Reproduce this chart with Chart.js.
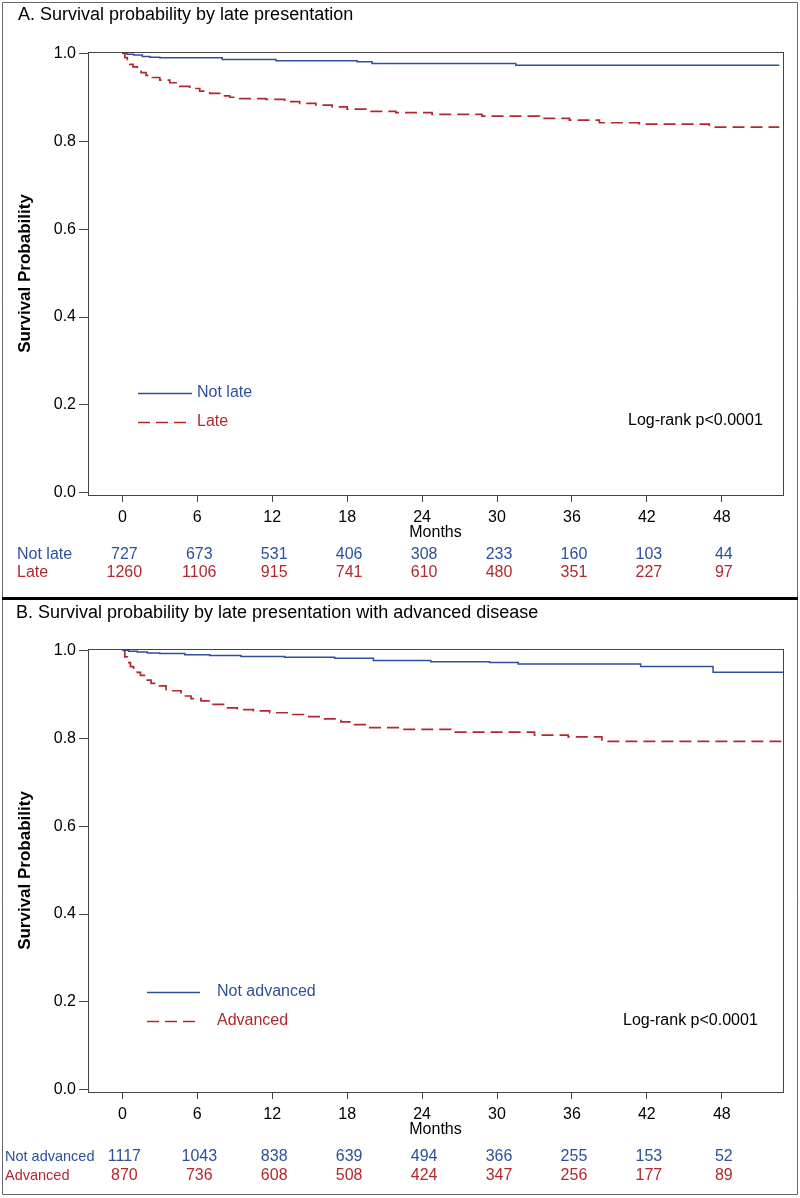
<!DOCTYPE html>
<html>
<head>
<meta charset="UTF-8" />
<title>Survival probability by late presentation</title>
<style>
  body { margin: 0; background: white; }
  #wrap { width: 800px; height: 1198px; }
  canvas { display: block; }
</style>
<script src="https://cdn.jsdelivr.net/npm/chart.js"></script>
</head>
<body>
<div id="wrap">
  <canvas id="chartA" width="800" height="599"></canvas>
  <canvas id="chartB" width="800" height="599"></canvas>
</div>
<script>
const FONT = "Arial, 'Liberation Sans', sans-serif";
const BLUE = "#2d509c";
const RED = "#b3282e";

// axis ticks
const monthTicks = [0, 6, 12, 18, 24, 30, 36, 42, 48];
const probTicks = [0, 0.2, 0.4, 0.6, 0.8, 1.0];

// Panel A: KM steps (month of drop, survival after drop)
const notLateMonths = [0, 0.4, 0.9, 1.6, 2.2, 3.0, 8.0, 12.3, 18.8, 20.0, 31.5, 52.6];
const notLateSurv   = [1, 0.998, 0.996, 0.993, 0.991, 0.990, 0.986, 0.983, 0.981, 0.977, 0.973, 0.973];
const lateMonths = [0, 0.2, 0.4, 0.6, 0.85, 1.2, 1.5, 1.9, 2.4, 3.0, 3.8, 4.6, 5.4, 6.2, 7.0, 7.8, 8.6, 9.4,
                    11.5, 13.0, 14.2, 15.5, 16.8, 18.0, 19.5, 21.9, 24.8, 28.8, 33.4, 35.8, 38.2, 41.4, 47.0, 52.6];
const lateSurv   = [1, 0.99, 0.982, 0.975, 0.969, 0.962, 0.956, 0.950, 0.945, 0.939, 0.933, 0.925, 0.920, 0.914, 0.909, 0.903, 0.900, 0.897,
                    0.895, 0.890, 0.886, 0.882, 0.878, 0.873, 0.868, 0.865, 0.861, 0.857, 0.852, 0.848, 0.842, 0.839, 0.832, 0.832];
const notLateRisk = [727, 673, 531, 406, 308, 233, 160, 103, 44];
const lateRisk    = [1260, 1106, 915, 741, 610, 480, 351, 227, 97];

// Panel B
const notAdvMonths = [0, 0.5, 1.2, 2.0, 3.0, 5.0, 7.0, 9.5, 13.0, 17.0, 20.1, 24.7, 29.4, 31.7, 41.5, 47.3, 52.9];
const notAdvSurv   = [1, 0.998, 0.996, 0.994, 0.993, 0.990, 0.988, 0.986, 0.984, 0.982, 0.977, 0.974, 0.972, 0.969, 0.963, 0.950, 0.950];
const advMonths = [0, 0.2, 0.4, 0.65, 0.9, 1.2, 1.45, 1.9, 2.3, 2.8, 3.5, 4.7, 5.5, 6.3, 7.2, 8.1, 9.2, 10.5, 11.8,
                   13.2, 14.5, 15.9, 17.5, 18.6, 19.7, 22.3, 26.3, 33.0, 35.7, 38.4, 52.8];
const advSurv   = [1, 0.985, 0.972, 0.963, 0.957, 0.950, 0.943, 0.932, 0.925, 0.919, 0.908, 0.896, 0.890, 0.885, 0.877, 0.869, 0.865, 0.862, 0.858,
                   0.854, 0.849, 0.844, 0.837, 0.831, 0.824, 0.820, 0.814, 0.807, 0.803, 0.793, 0.793];
const notAdvRisk = [1117, 1043, 838, 639, 494, 366, 255, 153, 52];
const advRisk    = [870, 736, 608, 508, 424, 347, 256, 177, 89];

function toPoints(xs, ys) {
  return xs.map((x, i) => ({ x: x, y: ys[i] }));
}

// frame, title, legend, log-rank note and numbers at risk
const kmExtras = {
  id: "kmExtras",
  beforeDraw(chart, args, o) {
    const ctx = chart.ctx;
    ctx.save();
    ctx.fillStyle = "white";
    ctx.fillRect(0, 0, chart.width, chart.height);
    ctx.strokeStyle = "#666";
    ctx.lineWidth = 1;
    ctx.beginPath();
    if (o.panel === "A") {
      ctx.moveTo(2.5, 598); ctx.lineTo(2.5, 2.5); ctx.lineTo(797.5, 2.5); ctx.lineTo(797.5, 598);
      ctx.stroke();
      ctx.fillStyle = "black";
      ctx.fillRect(2, 597, 796, 2);
    } else {
      ctx.moveTo(2.5, 0); ctx.lineTo(2.5, 595.5); ctx.lineTo(797.5, 595.5); ctx.lineTo(797.5, 0);
      ctx.stroke();
      ctx.fillStyle = "black";
      ctx.fillRect(2, 0, 796, 1);
    }
    ctx.restore();
  },
  afterDraw(chart, args, o) {
    const ctx = chart.ctx;
    const area = chart.chartArea;
    const xs = chart.scales.x;
    ctx.save();
    // plot box
    ctx.strokeStyle = "#444";
    ctx.lineWidth = 1;
    ctx.strokeRect(Math.round(area.left) + 0.5, Math.round(area.top) + 0.5,
                   Math.round(area.right - area.left), Math.round(area.bottom - area.top));
    // title
    ctx.fillStyle = "black";
    ctx.textBaseline = "middle";
    ctx.textAlign = "left";
    ctx.font = "18px " + FONT;
    ctx.fillText(o.title, o.titleX, o.titleY);
    // legend
    ctx.font = "16px " + FONT;
    chart.data.datasets.forEach((ds, i) => {
      const y = o.legendY[i] + 0.5;
      ctx.strokeStyle = ds.borderColor;
      ctx.lineWidth = ds.borderWidth;
      ctx.setLineDash(ds.borderDash || []);
      ctx.beginPath();
      ctx.moveTo(o.legendX1, y);
      ctx.lineTo(o.legendX2, y);
      ctx.stroke();
      ctx.setLineDash([]);
      ctx.fillStyle = ds.borderColor;
      ctx.fillText(ds.label, o.legendTextX, o.legendY[i]);
    });
    // log-rank
    ctx.fillStyle = "black";
    ctx.fillText(o.note, o.noteX, o.noteY);
    // numbers at risk
    o.risk.forEach((row, r) => {
      ctx.fillStyle = row.color;
      ctx.textAlign = "left";
      ctx.font = o.riskLabelSize + "px " + FONT;
      ctx.fillText(row.label, o.riskLabelX, o.riskY[r]);
      ctx.textAlign = "center";
      ctx.font = "16px " + FONT;
      row.values.forEach((v, i) => {
        ctx.fillText(String(v), xs.getPixelForValue(monthTicks[i]) + 2, o.riskY[r]);
      });
    });
    ctx.restore();
  }
};

function makeChart(id, datasets, padTop, padBottom, extras) {
  return new Chart(document.getElementById(id), {
    type: "line",
    data: { datasets: datasets },
    options: {
      responsive: false,
      animation: false,
      devicePixelRatio: 1,
      layout: { padding: { top: padTop, bottom: padBottom, left: 0, right: 17 } },
      elements: { point: { radius: 0 } },
      scales: {
        x: {
          type: "linear",
          min: -2.75,
          max: 52.9,
          afterBuildTicks: s => { s.ticks = monthTicks.map(v => ({ value: v })); },
          afterFit: s => { s.height = 47; },
          ticks: { color: "black", font: { family: FONT, size: 16 }, padding: 6, maxRotation: 0 },
          grid: { drawOnChartArea: false, drawTicks: true, tickLength: 7, color: "#444" },
          border: { display: false },
          title: { display: true, text: "Months", color: "black", font: { family: FONT, size: 16 }, padding: 0 }
        },
        y: {
          type: "linear",
          min: -0.005,
          max: 1.003,
          afterBuildTicks: s => { s.ticks = probTicks.map(v => ({ value: v })); },
          afterFit: s => { s.width = 88; },
          ticks: { color: "black", font: { family: FONT, size: 16 }, padding: 3, callback: v => v.toFixed(1) },
          grid: { drawOnChartArea: false, drawTicks: true, tickLength: 9, color: "#444" },
          border: { display: false },
          title: { display: true, text: "Survival Probability", color: "black",
                   font: { family: FONT, size: 17, weight: "bold" }, padding: { top: 15, bottom: 0 } }
        }
      },
      plugins: {
        legend: { display: false },
        tooltip: { enabled: false },
        kmExtras: extras
      }
    },
    plugins: [kmExtras]
  });
}

makeChart("chartA", [
  { label: "Not late", data: toPoints(notLateMonths, notLateSurv), borderColor: BLUE, borderWidth: 1.5, stepped: "before", fill: false },
  { label: "Late", data: toPoints(lateMonths, lateSurv), borderColor: RED, borderWidth: 1.7, borderDash: [12, 6], stepped: "before", fill: false }
], 52, 57, {
  panel: "A",
  title: "A. Survival probability by late presentation",
  titleX: 18, titleY: 15,
  legendX1: 138, legendX2: 192, legendTextX: 197, legendY: [393, 422],
  note: "Log-rank p<0.0001", noteX: 628, noteY: 421,
  riskLabelX: 17, riskLabelSize: 16, riskY: [555, 573],
  risk: [
    { label: "Not late", values: notLateRisk, color: BLUE },
    { label: "Late", values: lateRisk, color: RED }
  ]
});

makeChart("chartB", [
  { label: "Not advanced", data: toPoints(notAdvMonths, notAdvSurv), borderColor: BLUE, borderWidth: 1.5, stepped: "before", fill: false },
  { label: "Advanced", data: toPoints(advMonths, advSurv), borderColor: RED, borderWidth: 1.7, borderDash: [12, 6], stepped: "before", fill: false }
], 50, 59, {
  panel: "B",
  title: "B. Survival probability by late presentation with advanced disease",
  titleX: 16, titleY: 14,
  legendX1: 147, legendX2: 200, legendTextX: 217, legendY: [393, 422],
  note: "Log-rank p<0.0001", noteX: 623, noteY: 422,
  riskLabelX: 5, riskLabelSize: 14.5, riskY: [558, 577],
  risk: [
    { label: "Not advanced", values: notAdvRisk, color: BLUE },
    { label: "Advanced", values: advRisk, color: RED }
  ]
});
</script>
</body>
</html>
